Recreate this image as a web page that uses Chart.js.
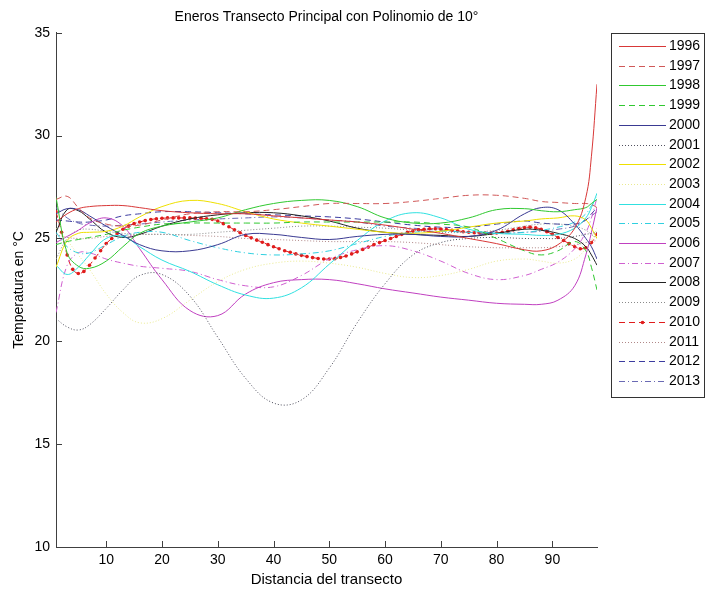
<!DOCTYPE html>
<html>
<head>
<meta charset="utf-8">
<script src="https://cdn.jsdelivr.net/npm/chart.js@4/dist/chart.umd.min.js"></script>
<style>
  html, body { margin: 0; padding: 0; background: #fff; }
  canvas { display: block; }
</style>
</head>
<body>
<canvas id="chart" width="706" height="592"></canvas>
<script>
// --- Data ---
const YEARS = ['1996', '1997', '1998', '1999', '2000', '2001', '2002', '2003', '2004',
               '2005', '2006', '2007', '2008', '2009', '2010', '2011', '2012', '2013'];

// distance positions where the curves were read
const DIST = [1, 3, 5, 7, 10, 13, 16, 20, 25, 30, 35, 40, 45, 50, 55, 60, 65, 70, 75, 80, 85, 88, 91, 94, 96, 97, 98];

const t1996 = [25.8, 26.2, 26.45, 26.55, 26.6, 26.6, 26.5, 26.35, 26.25, 26.2, 26.2, 26.1, 26.0, 25.9, 25.8, 25.65, 25.45, 25.25, 25.0, 24.75, 24.45, 24.4, 24.7, 25.5, 27.0, 29.0, 32.5];
const t1997 = [26.9, 27.05, 26.5, 26.0, 25.7, 25.6, 25.65, 25.9, 26.2, 26.3, 26.3, 26.4, 26.55, 26.7, 26.7, 26.7, 26.8, 26.95, 27.1, 27.1, 26.95, 26.8, 26.75, 26.7, 26.7, 26.65, 26.5];
const t1998 = [27.0, 24.3, 23.65, 23.55, 23.9, 24.6, 25.25, 25.6, 25.8, 26.0, 26.4, 26.7, 26.85, 26.85, 26.55, 26.0, 25.75, 25.75, 26.0, 26.4, 26.45, 26.35, 26.3, 26.4, 26.5, 26.7, 26.9];
const t1999 = [24.7, 24.85, 24.95, 25.05, 25.2, 25.4, 25.55, 25.7, 25.75, 25.75, 25.75, 25.75, 25.8, 25.8, 25.8, 25.8, 25.8, 25.7, 25.55, 25.0, 24.4, 24.2, 24.4, 24.85, 24.4, 23.6, 22.5];
const t2000 = [26.2, 26.45, 26.4, 26.1, 25.6, 25.15, 24.7, 24.4, 24.4, 24.7, 25.2, 25.2, 25.05, 24.95, 25.1, 25.2, 25.2, 25.1, 25.1, 25.4, 26.2, 26.5, 26.4, 25.7, 25.0, 24.6, 24.0];
const t2001 = [21.1, 20.7, 20.55, 20.8, 21.6, 22.5, 23.2, 23.25, 22.2, 20.2, 18.2, 17.0, 17.15, 18.7, 20.9, 22.8, 24.2, 24.8, 25.0, 25.05, 25.0, 25.0, 25.0, 25.1, 25.2, 25.25, 25.3];
const t2002 = [23.6, 24.9, 25.25, 25.3, 25.35, 25.6, 26.05, 26.55, 26.85, 26.7, 26.3, 25.95, 25.75, 25.6, 25.45, 25.3, 25.25, 25.35, 25.55, 25.75, 25.85, 25.95, 26.0, 26.1, 25.9, 25.5, 25.0];
const t2003 = [25.5, 24.9, 24.2, 23.5, 22.3, 21.4, 20.9, 21.1, 22.0, 22.9, 23.5, 23.8, 23.9, 23.8, 23.6, 23.3, 23.1, 23.2, 23.5, 23.9, 24.0, 23.9, 23.8, 24.0, 24.5, 24.9, 25.5];
const t2004 = [23.7, 23.25, 23.6, 24.2, 25.0, 25.1, 24.6, 23.95, 23.4, 22.75, 22.25, 22.1, 22.6, 23.75, 24.9, 25.85, 26.25, 26.0, 25.45, 25.25, 25.2, 25.15, 25.2, 25.5, 26.0, 26.5, 27.2];
const t2005 = [25.3, 24.6, 24.3, 24.3, 24.7, 25.1, 25.3, 25.3, 24.9, 24.55, 24.3, 24.2, 24.25, 24.4, 24.75, 25.1, 25.3, 25.35, 25.3, 25.25, 25.3, 25.4, 25.55, 25.8, 26.2, 26.6, 27.0];
const t2006 = [24.8, 25.1, 25.4, 25.75, 26.0, 25.6, 24.5, 23.0, 21.5, 21.25, 22.3, 22.85, 23.0, 23.0, 22.8, 22.55, 22.35, 22.15, 22.0, 21.85, 21.8, 21.8, 22.0, 22.7, 24.2, 25.3, 26.5];
const t2007 = [21.4, 23.7, 24.3, 24.3, 24.0, 23.8, 23.65, 23.55, 23.4, 23.0, 22.7, 22.65, 23.2, 24.0, 24.45, 24.65, 24.4, 23.9, 23.3, 23.0, 23.2, 23.5, 23.85, 24.5, 25.3, 26.0, 27.0];
const t2008 = [25.3, 26.4, 26.35, 25.95, 25.3, 25.05, 25.2, 25.6, 25.95, 26.15, 26.25, 26.25, 26.1, 25.85, 25.5, 25.3, 25.2, 25.15, 25.1, 25.25, 25.45, 25.4, 25.25, 25.0, 24.6, 24.2, 23.7];
const t2009 = [24.0, 25.0, 25.4, 25.45, 25.35, 25.25, 25.2, 25.2, 25.2, 25.3, 25.4, 25.5, 25.6, 25.6, 25.55, 25.5, 25.4, 25.3, 25.3, 25.4, 25.6, 25.7, 25.7, 25.6, 25.4, 25.2, 25.0];
const t2011 = [25.2, 25.05, 25.0, 25.0, 25.1, 25.15, 25.2, 25.2, 25.15, 25.1, 25.0, 24.95, 24.9, 24.85, 24.85, 24.85, 24.8, 24.7, 24.6, 24.55, 24.55, 24.55, 24.6, 24.7, 24.8, 24.85, 24.9];
const t2012 = [25.9, 25.85, 25.8, 25.8, 25.9, 26.1, 26.2, 26.3, 26.3, 26.25, 26.2, 26.15, 26.1, 26.05, 25.95, 25.8, 25.65, 25.55, 25.55, 25.7, 25.85, 25.75, 25.7, 25.7, 25.9, 26.2, 26.5];
const t2013 = [26.5, 26.0, 25.75, 25.65, 25.6, 25.65, 25.7, 25.8, 25.9, 25.95, 26.0, 26.05, 26.0, 25.9, 25.8, 25.6, 25.5, 25.4, 25.3, 25.25, 25.3, 25.35, 25.45, 25.6, 25.9, 26.1, 26.3];

// 2010 is plotted with a marker on every distance step
const DIST_2010 = [1, 2, 3, 4, 5, 6, 7, 8, 9, 10, 11, 12, 13, 14, 15, 16, 17, 18, 19, 20,
  21, 22, 23, 24, 25, 26, 27, 28, 29, 30, 31, 32, 33, 34, 35, 36, 37, 38, 39, 40,
  41, 42, 43, 44, 45, 46, 47, 48, 49, 50, 51, 52, 53, 54, 55, 56, 57, 58, 59, 60,
  61, 62, 63, 64, 65, 66, 67, 68, 69, 70, 71, 72, 73, 74, 75, 76, 77, 78, 79, 80,
  81, 82, 83, 84, 85, 86, 87, 88, 89, 90, 91, 92, 93, 94, 95, 96, 97, 98];
const t2010 = [26.3, 25.3, 24.2, 23.5, 23.3, 23.4, 23.7, 24.05, 24.4, 24.75,
  25.0, 25.25, 25.45, 25.6, 25.72, 25.8, 25.87, 25.92, 25.96, 25.98,
  26.0, 26.0, 26.0, 26.0, 26.0, 25.99, 25.98, 25.96, 25.93, 25.85,
  25.72, 25.57, 25.42, 25.28, 25.15, 25.03, 24.92, 24.82, 24.7, 24.6,
  24.5, 24.4, 24.33, 24.25, 24.18, 24.12, 24.07, 24.03, 24.0, 24.0,
  24.02, 24.08, 24.15, 24.25, 24.35, 24.47, 24.58, 24.7, 24.8, 24.9,
  25.0, 25.1, 25.2, 25.3, 25.36, 25.42, 25.45, 25.47, 25.47, 25.46,
  25.44, 25.4, 25.37, 25.33, 25.3, 25.28, 25.27, 25.26, 25.26, 25.27,
  25.3, 25.35, 25.42, 25.48, 25.53, 25.55, 25.52, 25.45, 25.33, 25.2,
  25.05, 24.9, 24.75, 24.6, 24.5, 24.55, 24.8, 25.2];

const X_TICKS = [10, 20, 30, 40, 50, 60, 70, 80, 90];
const Y_TICKS = [10, 15, 20, 25, 30, 35];

// --- Line styles, one per year (MATLAB-like) ---
const DASH = [6, 4];
const DOT = [1, 2];
const DASHDOT = [6, 3, 1, 3];
const STYLES = [
  { color: '#d83838', dash: [] },
  { color: '#d05858', dash: DASH },
  { color: '#30c830', dash: [] },
  { color: '#30c830', dash: DASH },
  { color: '#3a3a92', dash: [] },
  { color: '#50505e', dash: DOT },
  { color: '#eee000', dash: [] },
  { color: '#eaea90', dash: DOT },
  { color: '#30e0e0', dash: [] },
  { color: '#30d0e0', dash: DASHDOT },
  { color: '#c040c0', dash: [] },
  { color: '#d060d0', dash: DASHDOT },
  { color: '#222222', dash: [] },
  { color: '#8a8a8a', dash: DOT },
  { color: '#e01c1c', dash: DASH, marker: true },
  { color: '#b08888', dash: DOT },
  { color: '#3c3ca0', dash: DASH },
  { color: '#6a6ab4', dash: DASHDOT }
];

const SERIES = [t1996, t1997, t1998, t1999, t2000, t2001, t2002, t2003, t2004,
                t2005, t2006, t2007, t2008, t2009, t2010, t2011, t2012, t2013];

const FAMILY = '"Liberation Sans", Arial, sans-serif';
const FONT = { family: FAMILY, size: 14 };

// --- Helper plugins ---

// inward tick marks, like the MATLAB axes
const innerTicks = {
  id: 'innerTicks',
  afterDraw(chart) {
    const { ctx, chartArea, scales } = chart;
    ctx.save();
    ctx.strokeStyle = '#404040';
    ctx.lineWidth = 1;
    ctx.beginPath();
    Y_TICKS.forEach(v => {
      const y = Math.round(scales.y.getPixelForValue(v)) + 0.5;
      ctx.moveTo(chartArea.left, y);
      ctx.lineTo(chartArea.left + 6, y);
    });
    X_TICKS.forEach(v => {
      const x = Math.round(scales.x.getPixelForValue(v)) + 0.5;
      ctx.moveTo(x, chartArea.bottom);
      ctx.lineTo(x, chartArea.bottom - 6);
    });
    ctx.stroke();
    ctx.restore();
  }
};

// boxed legend to the right of the axes
const legendBox = {
  id: 'legendBox',
  afterDraw(chart) {
    const ctx = chart.ctx;
    ctx.save();
    ctx.strokeStyle = '#333';
    ctx.lineWidth = 1;
    ctx.setLineDash([]);
    ctx.strokeRect(611.5, 33.5, 93, 364);
    ctx.font = `${FONT.size}px ${FONT.family}`;
    ctx.textBaseline = 'middle';
    chart.data.datasets.forEach((ds, i) => {
      const y = Math.round(46 + i * 19.7) + 0.5;
      ctx.strokeStyle = ds.borderColor;
      ctx.setLineDash(ds.borderDash);
      ctx.beginPath();
      ctx.moveTo(619, y);
      ctx.lineTo(666, y);
      ctx.stroke();
      ctx.setLineDash([]);
      if (ds.pointRadius) {
        ctx.fillStyle = ds.borderColor;
        ctx.beginPath();
        ctx.arc(642.5, y, 1.8, 0, Math.PI * 2);
        ctx.fill();
      }
      ctx.fillStyle = '#000';
      ctx.fillText(ds.label, 669, y);
    });
    ctx.restore();
  }
};

// --- Chart ---

const datasets = YEARS.map((year, i) => {
  const xs = STYLES[i].marker ? DIST_2010 : DIST;
  return {
    label: year,
    data: xs.map((x, j) => ({ x: x, y: SERIES[i][j] })),
    borderColor: STYLES[i].color,
    borderDash: STYLES[i].dash,
    borderWidth: 1,
    tension: 0.4,
    pointRadius: STYLES[i].marker ? 1.8 : 0,
    pointBackgroundColor: STYLES[i].color,
    pointBorderWidth: 0,
    fill: false
  };
});

new Chart(document.getElementById('chart'), {
  type: 'line',
  data: { datasets },
  plugins: [innerTicks, legendBox],
  options: {
    responsive: false,
    animation: false,
    devicePixelRatio: 1,
    layout: { padding: { top: 0, right: 109, left: 0, bottom: 0 } },
    plugins: {
      legend: { display: false },
      tooltip: { enabled: false },
      title: {
        display: true,
        fullSize: false,
        text: 'Eneros Transecto Principal con Polinomio de 10°',
        color: '#000',
        font: { family: FAMILY, size: 14, weight: 'normal' },
        padding: { top: 9, bottom: 7 }
      }
    },
    scales: {
      x: {
        type: 'linear',
        min: 1,
        max: 98,
        afterBuildTicks: s => { s.ticks = X_TICKS.map(v => ({ value: v })); },
        afterFit: s => { s.height = 45; },
        grid: { display: false, drawTicks: false },
        border: { display: true, color: '#404040', width: 1 },
        ticks: { color: '#000', font: FONT, padding: 5, maxRotation: 0, autoSkip: false },
        title: { display: true, text: 'Distancia del transecto', color: '#000', font: { family: FAMILY, size: 15 }, padding: { top: 0, bottom: 3 } }
      },
      y: {
        min: 10,
        max: 35,
        afterBuildTicks: s => { s.ticks = Y_TICKS.map(v => ({ value: v })); },
        afterFit: s => { s.width = 56; },
        grid: { display: false, drawTicks: false },
        border: { display: true, color: '#404040', width: 1 },
        ticks: { color: '#000', font: FONT, padding: 6 },
        title: { display: true, text: 'Temperatura en °C', color: '#000', font: FONT, padding: { top: 11, bottom: 0 } }
      }
    }
  }
});
</script>
</body>
</html>
